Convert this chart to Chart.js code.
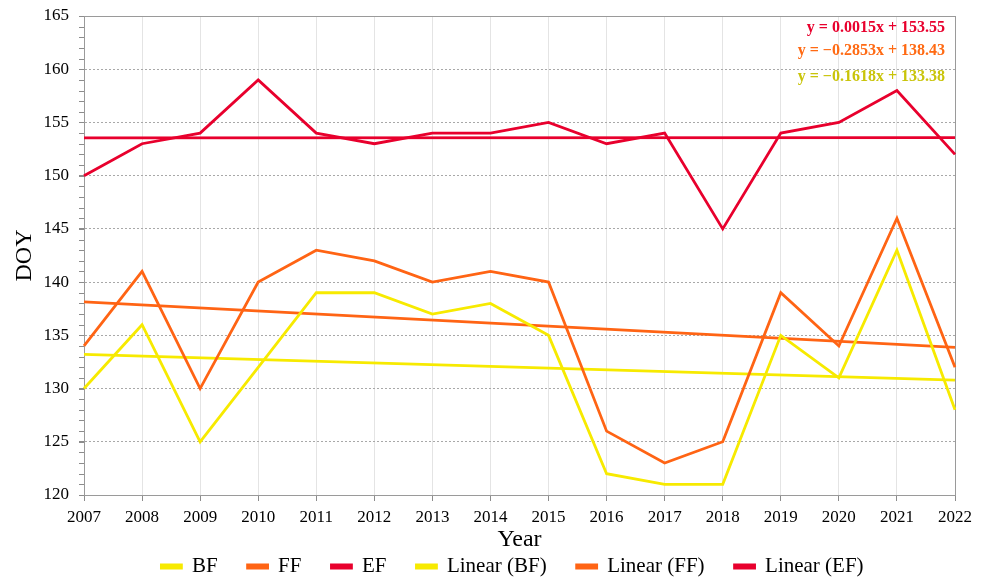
<!DOCTYPE html>
<html>
<head>
<meta charset="utf-8">
<script src="https://cdn.jsdelivr.net/npm/chart.js@4/dist/chart.umd.min.js"></script>
<style>
html,body{margin:0;padding:0;background:#fff;}
canvas{display:block;}
</style>
</head>
<body>
<canvas id="c" width="983" height="581"></canvas>
<script>
const years = ['2007','2008','2009','2010','2011','2012','2013','2014','2015','2016','2017','2018','2019','2020','2021','2022'];
const BF = [130,136,125,132,139,139,137,138,135,122,121,121,135,131,143,128];
const FF = [134,141,130,140,143,142,140,141,140,126,123,125,139,134,146,132];
const EF = [150,153,154,159,154,153,154,154,155,153,154,145,154,155,158,152];
// trend line endpoints (first and last year), read from the fitted equations
const trendBF = [133.22,null,null,null,null,null,null,null,null,null,null,null,null,null,null,130.79];
const trendFF = [138.14,null,null,null,null,null,null,null,null,null,null,null,null,null,null,133.87];
const trendEF = [153.55,null,null,null,null,null,null,null,null,null,null,null,null,null,null,153.57];
const equations = ['y = 0.0015x + 153.55','y = \u22120.2853x + 138.43','y = \u22120.1618x + 133.38'];

const cBF = '#f7ea00', cFF = '#ff6414', cEF = '#e8002d';
const eqColors = [cEF, '#ff6a13', '#c9c40a'];
const FONT = "'Liberation Serif', 'DejaVu Serif', serif";

const extras = {
  id: 'extras',
  afterLayout(chart) {
    if (chart.legend) { chart.legend.left -= 7; chart.legend.right -= 7; }
  },
  beforeDatasetsDraw(chart) {
    const ctx = chart.ctx, a = chart.chartArea, y = chart.scales.y;
    ctx.save();
    ctx.strokeStyle = '#8c8c8c';
    ctx.lineWidth = 1;
    for (let v = y.min; v <= y.max; v++) {
      const py = Math.round(y.getPixelForValue(v)) + 0.5;
      ctx.beginPath();
      ctx.moveTo(a.left - 5, py);
      ctx.lineTo(a.left, py);
      ctx.stroke();
    }
    ctx.strokeStyle = '#9a9a9a';
    ctx.strokeRect(Math.round(a.left) + 0.5, Math.round(a.top) + 0.5, Math.round(a.right - a.left), Math.round(a.bottom - a.top));
    ctx.restore();
  },
  afterDraw(chart) {
    const ctx = chart.ctx, a = chart.chartArea;
    ctx.save();
    ctx.font = "bold 16px " + FONT;
    ctx.textAlign = 'right';
    ctx.textBaseline = 'middle';
    const ys = [28, 51, 77];
    equations.forEach((t, i) => {
      ctx.fillStyle = eqColors[i];
      ctx.fillText(t, a.right - 10, ys[i]);
    });
    ctx.restore();
  }
};

const mk = (label, data, color, extra) => Object.assign({
  label, data, borderColor: color, backgroundColor: color,
  borderWidth: 2.8, pointRadius: 0, pointHoverRadius: 0, tension: 0, fill: false
}, extra || {});

new Chart(document.getElementById('c'), {
  type: 'line',
  data: {
    labels: years,
    datasets: [
      mk('BF', BF, cBF),
      mk('FF', FF, cFF),
      mk('EF', EF, cEF),
      mk('Linear (BF)', trendBF, cBF, {spanGaps: true}),
      mk('Linear (FF)', trendFF, cFF, {spanGaps: true}),
      mk('Linear (EF)', trendEF, cEF, {spanGaps: true})
    ]
  },
  options: {
    responsive: false,
    animation: false,
    layout: { padding: { left: 0, right: 28, top: 0, bottom: -6 } },
    plugins: {
      tooltip: { enabled: false },
      legend: {
        position: 'bottom',
        fullSize: false,
        labels: {
          boxWidth: 20, boxHeight: 3, padding: 30,
          color: '#000',
          font: { family: FONT, size: 21 }
        }
      }
    },
    scales: {
      x: {
        type: 'category',
        offset: false,
        grid: { color: '#e4e4e4', lineWidth: 1, drawTicks: true, tickLength: 6, tickColor: '#8c8c8c' },
        border: { color: '#8c8c8c' },
        ticks: { color: '#000', font: { family: FONT, size: 17 }, padding: 6, maxRotation: 0, autoSkip: false },
        title: { display: true, text: 'Year', color: '#000', font: { family: FONT, size: 24 }, padding: { top: 0, bottom: -28 } },
        afterFit(s) { s.height = 31; }
      },
      y: {
        min: 120, max: 165,
        ticks: { stepSize: 5, color: '#000', font: { family: FONT, size: 17 }, padding: 10 },
        grid: { color: '#a8a8a8', lineWidth: 1, drawTicks: true, tickLength: 5, tickColor: '#8c8c8c' },
        border: { color: '#8c8c8c', dash: [2, 2] },
        title: { display: true, text: 'DOY', color: '#000', font: { family: FONT, size: 24 }, padding: { top: 10, bottom: 4 } },
        afterFit(s) { s.width = 84; s.paddingTop = 16; }
      }
    }
  },
  plugins: [extras]
});
</script>
</body>
</html>
